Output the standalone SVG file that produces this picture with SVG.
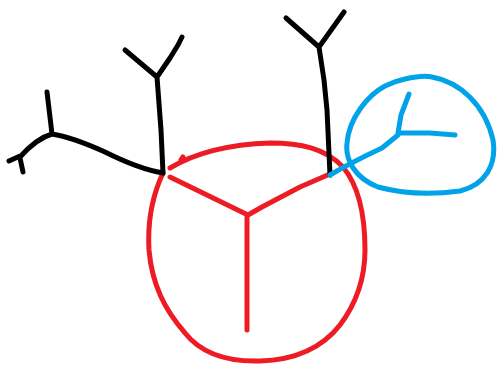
<svg xmlns="http://www.w3.org/2000/svg" width="497" height="365" viewBox="0 0 497 365">
<style>
.s{fill:none;stroke-width:5;stroke-linecap:round;stroke-linejoin:round}
.k{stroke:#000}
.r{stroke:#ED1C24}
.b{stroke:#00A2E8}
</style>
<rect width="497" height="365" fill="#fff"/>
<g id="red">
<path class="s r" d="M183,157 L181,160 M170,168 C200,150 240,144 270,143 C300,143 325,148 343,167 C358,185 365,215 365,250 C365,280 355,305 340,325 C322,348 295,360 260,361 C225,362 200,352 185,333 C165,310 152,285 149,250 C147,215 155,190 163,173 M170,177 L248,215 L262,207 L300,187 L330,174 M247,215 L247,330"/>
</g>
<g id="black">
<path class="s k" d="M163,173 L161,130 L157,77 M125,50 L157,77 L170,58 L178,45 L182,37 M163,173 C145,170 125,162 105,152 C85,143 65,136 52,134 C38,138 28,148 20,157 M52,134 L47,92 M9,161 L20,156 M20,158 L23,172"/>
<path class="s k" d="M330,175 L327,110 L324,80 L319,47 M286,18 L319,47 L344,12"/>
</g>
<g id="blue">
<path class="s b" d="M405,79 C418,76 428,76 432,77 C460,82 485,105 493,140 C497,165 485,185 460,191 C430,195 400,193 378,187 C355,178 345,160 347,143 C349,118 368,95 385,86 C395,81 400,80 405,79 Z"/>
<path class="s b" d="M330,175 C345,166 365,156 382,148 L398,135 M398,133 L430,133 L455,135 M398,133 L401,115 L409,94"/>
</g>
</svg>
